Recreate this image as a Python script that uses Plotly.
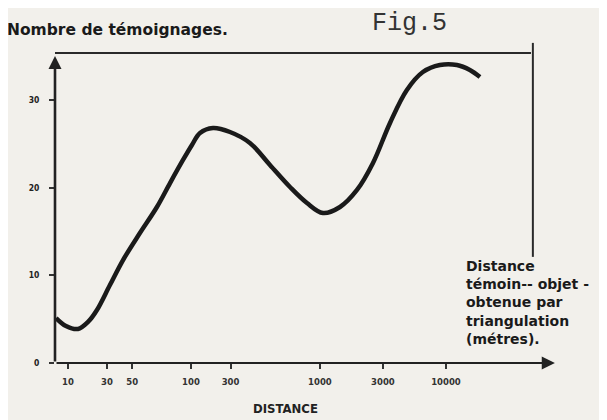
import plotly.graph_objects as go

# Distance axis position (hand-drawn, roughly one unit per decade)
distance_pos = [0.905, 0.984, 1.079, 1.159, 1.230, 1.333, 1.437, 1.571, 1.706, 1.810,
                1.913, 1.984, 2.048, 2.151, 2.286, 2.444, 2.603, 2.762, 2.897, 3.024,
                3.159, 3.294, 3.421, 3.556, 3.690, 3.817, 3.952, 4.087, 4.190, 4.270]
temoignages = [5.13, 4.22, 3.88, 4.68, 6.04, 8.89, 11.74, 14.82, 17.79, 20.52,
               23.15, 24.86, 26.23, 26.80, 26.34, 25.09, 22.58, 20.07, 18.24, 17.10,
               17.79, 19.73, 22.81, 27.37, 31.13, 33.18, 33.98, 33.98, 33.41, 32.61]

x_tick_pos = [1.0, 1.31, 1.51, 1.976, 2.29, 3.0, 3.5, 4.0]
x_tick_text = ["10", "30", "50", "100", "300", "1000", "3000", "10000"]
y_tick_vals = [0, 10, 20, 30]
y_tick_text = ["0", "10", "20", "30"]

BG = "#f2f0eb"
INK = "#1a1a1a"
X0, X1 = 0.897, 4.945
Y0, Y1 = 0.0, 36.83

fig = go.Figure()
fig.add_trace(go.Scatter(
    x=distance_pos, y=temoignages, mode="lines",
    line=dict(color=INK, width=4.5, shape="spline", smoothing=1.0),
    hoverinfo="skip", showlegend=False))

fig.update_layout(
    width=599, height=412,
    margin=dict(l=47, r=42, t=32, b=57),
    paper_bgcolor=BG, plot_bgcolor=BG,
    showlegend=False,
    xaxis=dict(range=[X0, X1], showgrid=False, zeroline=False, showline=False,
               tickmode="array", tickvals=x_tick_pos, ticktext=x_tick_text,
               ticks="outside", ticklen=5, tickwidth=1.5, tickcolor="#333",
               ticklabelstandoff=6,
               tickfont=dict(family="DejaVu Sans", size=8.5, color="#333", weight="bold")),
    yaxis=dict(range=[Y0, Y1], showgrid=False, zeroline=False, showline=False,
               tickmode="array", tickvals=y_tick_vals, ticktext=y_tick_text,
               ticks="outside", ticklen=5, tickwidth=1.5, tickcolor="#333",
               ticklabelstandoff=8,
               tickfont=dict(family="DejaVu Sans Condensed", size=8.5, color="#222", weight="bold")),
)

# frame lines
fig.add_shape(type="line", xref="x", yref="y", x0=X0, x1=4.675, y0=35.35, y1=35.35,
              line=dict(color="#2a2a2a", width=2))
fig.add_shape(type="line", xref="x", yref="y", x0=4.69, x1=4.69, y0=36.5, y1=12.1,
              line=dict(color="#2a2a2a", width=2))

# axes with arrows
fig.add_annotation(x=4.865, y=0, ax=X0, ay=0, xref="x", yref="y", axref="x", ayref="y",
                   text="", showarrow=True, arrowhead=2, arrowsize=1.2, arrowwidth=2.2,
                   arrowcolor="#222")
fig.add_annotation(x=X0, y=35.0, ax=X0, ay=0, xref="x", yref="y", axref="x", ayref="y",
                   text="", showarrow=True, arrowhead=2, arrowsize=1.0, arrowwidth=2.6,
                   arrowcolor="#222")

# texts
fig.add_annotation(xref="paper", yref="paper", x=-0.098, y=1.031, xanchor="left", yanchor="middle",
                   text="<b>Nombre de témoignages.</b>", showarrow=False,
                   font=dict(family="DejaVu Sans", size=15.5, color="#1a1a1a"))
fig.add_annotation(xref="paper", yref="paper", x=0.618, y=1.05, xanchor="left", yanchor="middle",
                   text="Fig.5", showarrow=False,
                   font=dict(family="Liberation Mono", size=25, color="#333"))
fig.add_annotation(xref="x", yref="y", x=4.143, y=12.2, xanchor="left", yanchor="top",
                   align="left", showarrow=False,
                   text="<b>Distance<br>témoin-- objet -<br>obtenue par<br>triangulation<br>(métres).</b>",
                   font=dict(family="DejaVu Sans", size=14, color="#1a1a1a"))
fig.add_annotation(xref="paper", yref="paper", x=0.451, y=-0.142, xanchor="center", yanchor="middle",
                   text="<b>DISTANCE</b>", showarrow=False,
                   font=dict(family="DejaVu Sans Condensed", size=13, color="#222"))

fig.write_html("out.html")
